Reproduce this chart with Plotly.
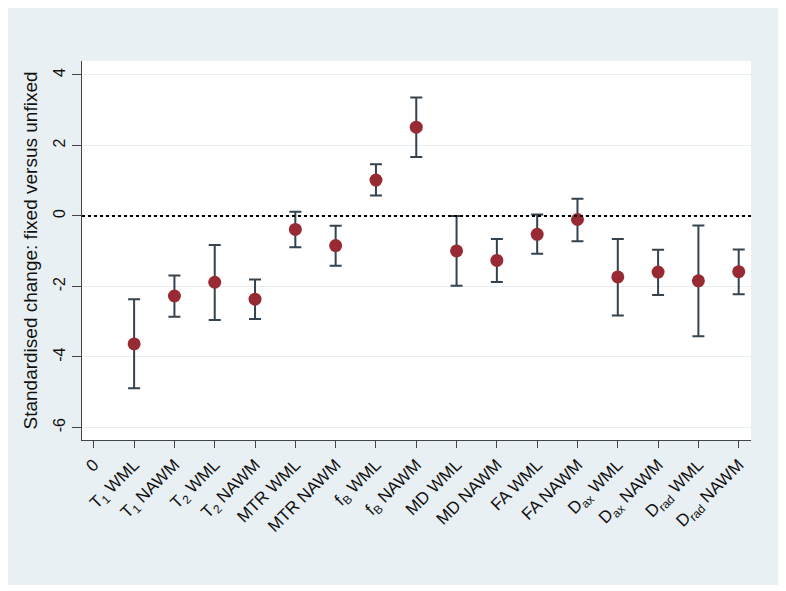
import plotly.graph_objects as go

categories = ["0", "T<sub>1</sub> WML", "T<sub>1</sub> NAWM", "T<sub>2</sub> WML", "T<sub>2</sub> NAWM",
              "MTR WML", "MTR NAWM", "f<sub>B</sub> WML", "f<sub>B</sub> NAWM",
              "MD WML", "MD NAWM", "FA WML", "FA NAWM",
              "D<sub>ax</sub> WML", "D<sub>ax</sub> NAWM", "D<sub>rad</sub> WML", "D<sub>rad</sub> NAWM"]
positions = list(range(len(categories)))
estimate = [-3.63, -2.27, -1.88, -2.36, -0.38, -0.84, 1.02, 2.52, -0.99, -1.26, -0.52, -0.10, -1.73, -1.59, -1.84, -1.58]
upper = [-2.36, -1.69, -0.82, -1.80, 0.12, -0.28, 1.47, 3.36, 0.00, -0.65, 0.04, 0.49, -0.65, -0.96, -0.27, -0.95]
lower = [-4.89, -2.86, -2.95, -2.92, -0.89, -1.41, 0.58, 1.67, -1.98, -1.87, -1.07, -0.72, -2.82, -2.24, -3.41, -2.22]
y_ticks = [4, 2, 0, -2, -4, -6]

xs = positions[1:]
err_plus = [u - e for u, e in zip(upper, estimate)]
err_minus = [e - l for e, l in zip(estimate, lower)]

fig = go.Figure()
fig.add_trace(go.Scatter(
    x=xs, y=estimate, mode="markers",
    marker=dict(color="#982a33", size=13, line=dict(width=0)),
    error_y=dict(type="data", symmetric=False, array=err_plus, arrayminus=err_minus,
                 color="#34434e", thickness=2, width=6),
    showlegend=False,
))

# page offset of 8px (default body margin)
OFF = 8
FW, FH = 786 - OFF, 591 - OFF
W0, W1, T0, B0 = 82 - OFF, 751 - OFF, 61 - OFF, 440 - OFF
pw, ph = W1 - W0, B0 - T0
def px(x):
    return (x - W0) / pw
def py(y):
    return (B0 - y) / ph

shapes = [
    dict(type="rect", xref="paper", yref="paper", x0=px(-1), x1=px(779 - OFF), y0=py(585 - OFF), y1=py(-1),
         fillcolor="#e9f0f3", line=dict(width=0), layer="below"),
    dict(type="rect", xref="paper", yref="paper", x0=0, x1=1, y0=0, y1=1,
         fillcolor="white", line=dict(width=0), layer="below"),
    dict(type="line", xref="paper", yref="y", x0=0, x1=1, y0=0, y1=0,
         line=dict(color="black", width=2, dash="dot"), layer="above"),
]

fig.update_layout(
    width=FW, height=FH,
    margin=dict(l=W0, r=FW - W1, t=T0, b=FH - B0),
    paper_bgcolor="white", plot_bgcolor="white",
    font=dict(family="Liberation Sans, Arial, sans-serif", size=16, color="#111111"),
    shapes=shapes,
    xaxis=dict(
        range=[-0.293, 16.305], tickmode="array", tickvals=positions, ticktext=categories,
        tickangle=-45, ticks="outside", ticklen=7, tickwidth=1.3, tickcolor="#444444",
        showline=True, linecolor="#444444", linewidth=1.3, showgrid=False, zeroline=False,
        tickfont=dict(size=17), fixedrange=True,
    ),
    yaxis=dict(
        range=[-6.355, 4.397], tickmode="array", tickvals=y_ticks, ticktext=[str(v) for v in y_ticks],
        tickangle=-90, ticks="outside", ticklen=9, tickwidth=1.3, tickcolor="#444444",
        showline=True, linecolor="#444444", linewidth=1.3,
        showgrid=True, gridcolor="#e6eef1", gridwidth=1.3, zeroline=False,
        title=dict(text="Standardised change: fixed versus unfixed", font=dict(size=19), standoff=8),
        tickfont=dict(size=16),
    ),
)

fig.write_html("out.html")
